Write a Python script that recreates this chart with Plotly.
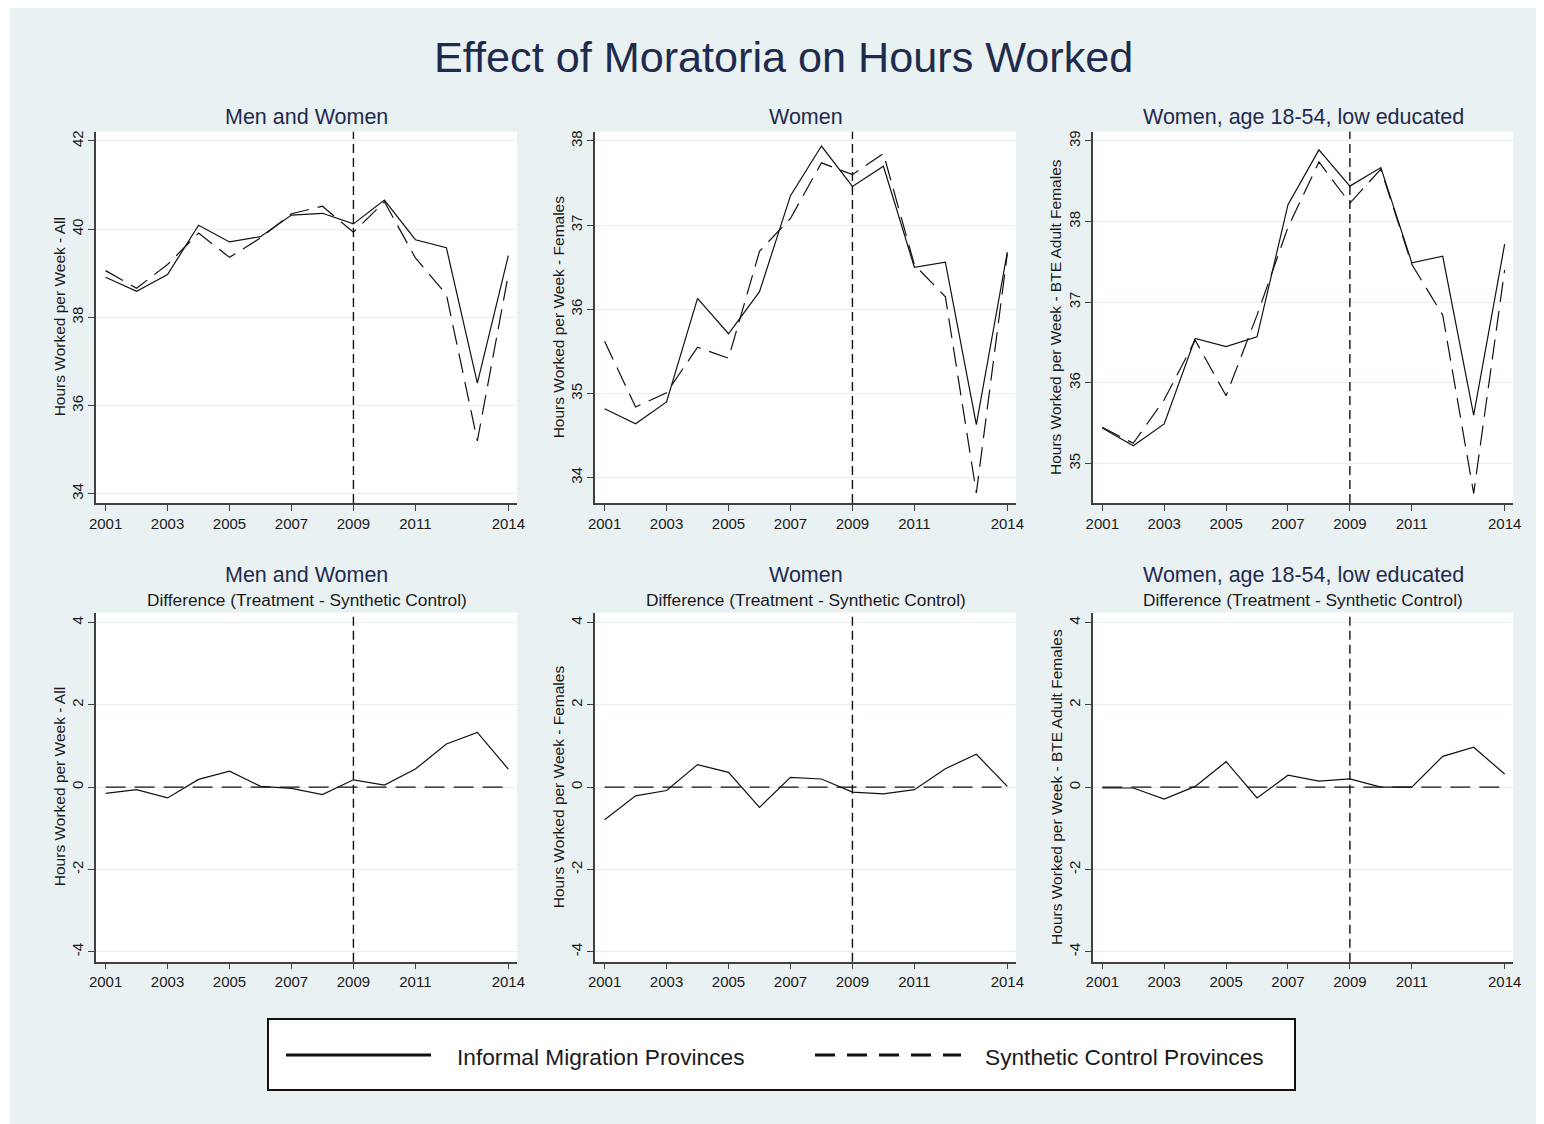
import plotly.graph_objects as go

# ---------------- data ----------------
years = [2001, 2002, 2003, 2004, 2005, 2006, 2007, 2008, 2009, 2010, 2011, 2012, 2013, 2014]
x_tick_years = [2001, 2003, 2005, 2007, 2009, 2011, 2014]
treatment_year = 2009

all_informal = [38.91, 38.59, 38.97, 40.09, 39.71, 39.83, 40.32, 40.36, 40.12, 40.66, 39.76, 39.58, 36.51, 39.40]
all_synthetic = [39.06, 38.66, 39.20, 39.91, 39.36, 39.80, 40.35, 40.52, 39.93, 40.62, 39.35, 38.52, 35.20, 38.97]

women_informal = [34.82, 34.64, 34.90, 36.13, 35.71, 36.21, 37.35, 37.94, 37.46, 37.70, 36.50, 36.56, 34.63, 36.68]
women_synthetic = [35.62, 34.84, 35.01, 35.55, 35.42, 36.69, 37.08, 37.74, 37.60, 37.85, 36.53, 36.15, 33.82, 36.66]

low_informal = [35.44, 35.22, 35.49, 36.55, 36.45, 36.57, 38.21, 38.89, 38.44, 38.67, 37.49, 37.57, 35.60, 37.72]
low_synthetic = [35.45, 35.25, 35.79, 36.53, 35.84, 36.84, 37.93, 38.74, 38.23, 38.65, 37.47, 36.84, 34.63, 37.40]

all_diff = [-0.15, -0.06, -0.26, 0.19, 0.39, 0.02, -0.03, -0.18, 0.18, 0.05, 0.44, 1.05, 1.33, 0.44]
women_diff = [-0.79, -0.21, -0.08, 0.55, 0.36, -0.49, 0.24, 0.20, -0.12, -0.16, -0.06, 0.45, 0.80, 0.02]
low_diff = [-0.02, -0.02, -0.29, 0.02, 0.62, -0.26, 0.29, 0.15, 0.20, 0.00, 0.00, 0.75, 0.97, 0.32]
synthetic_diff = [0, 0, 0, 0, 0, 0, 0, 0, 0, 0, 0, 0, 0, 0]

top_titles = ["Men and Women", "Women", "Women, age 18-54, low educated"]
diff_subtitle = "Difference (Treatment - Synthetic Control)"
y_titles = ["Hours Worked per Week - All", "Hours Worked per Week - Females",
            "Hours Worked per Week - BTE Adult Females"]
main_title = "Effect of Moratoria on Hours Worked"
series_names = ["Informal Migration Provinces", "Synthetic Control Provinces"]

top_y_ticks = [[34, 36, 38, 40, 42], [34, 35, 36, 37, 38], [35, 36, 37, 38, 39]]
diff_y_ticks = [-4, -2, 0, 2, 4]

# ---------------- layout helpers ----------------
# page body has an 8px margin, so the figure starts at (8, 8)
OFF = 8
W, H = 1536, 1116
FONT = "Arial, 'Liberation Sans', sans-serif"
NAVY = "#1f2b4d"
TXT = "#1a1a1a"
BG = "#eaf1f3"
GRID = "#e6eef0"
AXC = "#404040"


def px(x):
    return (x - OFF) / W


def py(y):
    return 1 - (y - OFF) / H


col_px = [(96, 517), (595, 1016), (1092.7, 1513.3)]
top_row = (131.7, 503.0)
bot_row = (612.7, 961.7)
top_ranges = [[33.79, 42.21], [33.70, 38.11], [34.51, 39.115]]
diff_range = [-4.24, 4.24]
x_range = [2000.69, 2014.28]

fig = go.Figure()
layout = dict(
    width=W, height=H,
    margin=dict(l=0, r=0, t=0, b=0, pad=0),
    paper_bgcolor=BG, plot_bgcolor="white",
    showlegend=False,
    font=dict(family=FONT, color=TXT),
)

panels = [
    (all_informal, all_synthetic, 0, 0),
    (women_informal, women_synthetic, 1, 0),
    (low_informal, low_synthetic, 2, 0),
    (all_diff, synthetic_diff, 0, 1),
    (women_diff, synthetic_diff, 1, 1),
    (low_diff, synthetic_diff, 2, 1),
]

annotations = []
shapes = []

for i, (solid, dashed, col, row) in enumerate(panels):
    n = i + 1
    xa = "x" if n == 1 else f"x{n}"
    ya = "y" if n == 1 else f"y{n}"
    xkey = "xaxis" if n == 1 else f"xaxis{n}"
    ykey = "yaxis" if n == 1 else f"yaxis{n}"
    x0p, x1p = col_px[col]
    rt, rb = top_row if row == 0 else bot_row

    fig.add_trace(go.Scatter(
        x=years, y=solid, mode="lines", name=series_names[0],
        line=dict(color="#111111", width=1.2), xaxis=xa, yaxis=ya,
        showlegend=False))
    fig.add_trace(go.Scatter(
        x=years, y=dashed, mode="lines", name=series_names[1],
        line=dict(color="#111111", width=1.2, dash="20px,9px"), xaxis=xa, yaxis=ya,
        showlegend=False))

    layout[xkey] = dict(
        domain=[px(x0p), px(x1p)], anchor=ya, range=x_range,
        tickmode="array", tickvals=x_tick_years, ticktext=[str(v) for v in x_tick_years],
        ticks="outside", ticklen=6, tickwidth=1.3, tickcolor=AXC,
        showline=True, linecolor=AXC, linewidth=1.5, showgrid=False, zeroline=False,
        tickfont=dict(size=15, color=TXT, family=FONT), automargin=False,
        ticklabelstandoff=0,
    )
    yticks = top_y_ticks[col] if row == 0 else diff_y_ticks
    layout[ykey] = dict(
        domain=[py(rb), py(rt)], anchor=xa,
        range=top_ranges[col] if row == 0 else diff_range,
        tickmode="array", tickvals=yticks, ticktext=[str(v) for v in yticks],
        ticks="outside", ticklen=6, tickwidth=1.3, tickcolor=AXC, tickangle=-90,
        showline=True, linecolor=AXC, linewidth=1.5,
        showgrid=True, gridcolor=GRID, gridwidth=1, zeroline=False,
        tickfont=dict(size=15, color=TXT, family=FONT), automargin=False,
        ticklabelstandoff=-1,
    )

    # treatment year vertical line
    shapes.append(dict(type="line", xref=xa, yref=f"{ya} domain",
                       x0=treatment_year, x1=treatment_year, y0=0, y1=1,
                       line=dict(color="#111111", width=1.4, dash="9px,5px")))

    # y-axis title
    annotations.append(dict(text=y_titles[col], textangle=-90, xref="paper", yref="paper",
                            x=px(x0p - 37), y=py((rt + rb) / 2), showarrow=False,
                            xanchor="center", yanchor="middle",
                            font=dict(size=15.5, color=TXT, family=FONT)))
    # panel title
    cx = px((x0p + x1p) / 2)
    if row == 0:
        annotations.append(dict(text=top_titles[col], xref="paper", yref="paper",
                                x=cx, y=py(117), showarrow=False, xanchor="center",
                                yanchor="middle", font=dict(size=21.5, color=NAVY, family=FONT)))
    else:
        annotations.append(dict(text=top_titles[col], xref="paper", yref="paper",
                                x=cx, y=py(575), showarrow=False, xanchor="center",
                                yanchor="middle", font=dict(size=21.5, color=NAVY, family=FONT)))
        annotations.append(dict(text=diff_subtitle, xref="paper", yref="paper",
                                x=cx, y=py(600), showarrow=False, xanchor="center",
                                yanchor="middle", font=dict(size=17.3, color=TXT, family=FONT)))

# main title
annotations.append(dict(text=main_title, xref="paper", yref="paper", x=px(783), y=py(57),
                        showarrow=False, xanchor="center", yanchor="middle",
                        font=dict(size=43.2, color=NAVY, family=FONT)))

# thin white outer strip on the left
shapes.append(dict(type="rect", xref="paper", yref="paper", x0=0, x1=px(10), y0=0, y1=1,
                   fillcolor="white", line=dict(width=0), layer="above"))

# legend box
shapes.append(dict(type="rect", xref="paper", yref="paper", x0=px(268), x1=px(1295),
                   y0=py(1090), y1=py(1019), fillcolor="white",
                   line=dict(color="#111111", width=2), layer="above"))
shapes.append(dict(type="line", xref="paper", yref="paper", x0=px(286), x1=px(431),
                   y0=py(1055), y1=py(1055), line=dict(color="#111111", width=3), layer="above"))
shapes.append(dict(type="line", xref="paper", yref="paper", x0=px(815), x1=px(961),
                   y0=py(1055), y1=py(1055),
                   line=dict(color="#111111", width=3, dash="20px,12px"), layer="above"))
annotations.append(dict(text=series_names[0], xref="paper", yref="paper", x=px(455),
                        y=py(1057), showarrow=False, xanchor="left", yanchor="middle",
                        font=dict(size=22.7, color=TXT, family=FONT)))
annotations.append(dict(text=series_names[1], xref="paper", yref="paper", x=px(983),
                        y=py(1057), showarrow=False, xanchor="left", yanchor="middle",
                        font=dict(size=22.7, color=TXT, family=FONT)))

layout["annotations"] = annotations
layout["shapes"] = shapes
fig.update_layout(**layout)

fig.write_html("out.html")
